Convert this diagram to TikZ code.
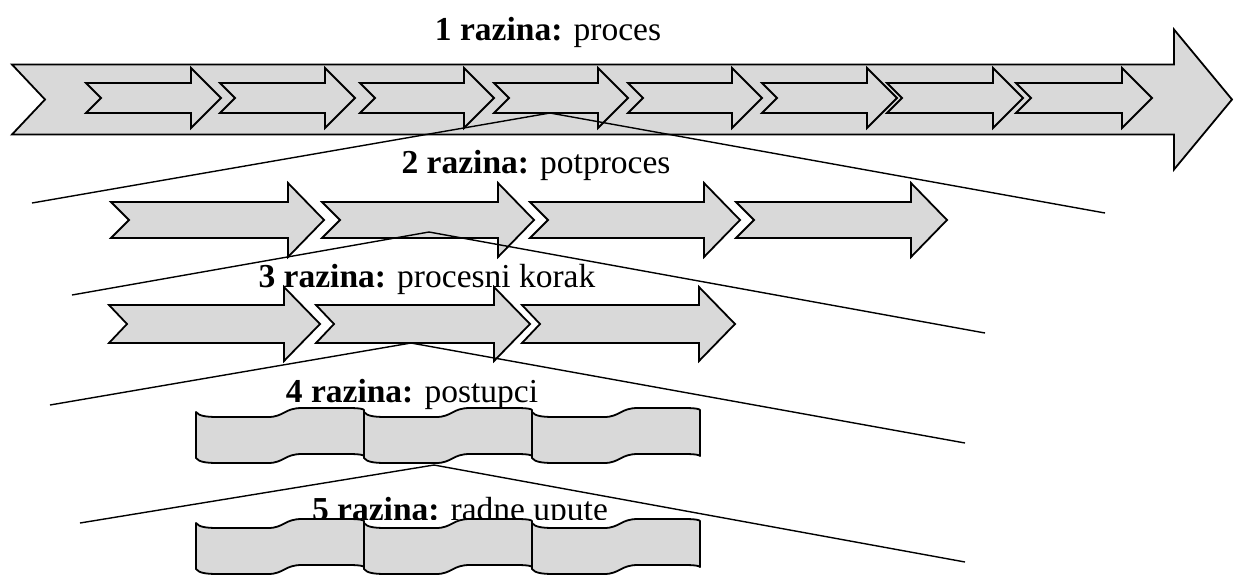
\documentclass[tikz,border=0pt]{standalone}
\usepackage{fontspec}
\setmainfont{Liberation Serif}
\definecolor{shapegray}{RGB}{217,217,217}
\tikzset{
  arrowbox/.style={draw=black, fill=shapegray, line width=1.8pt, line join=miter},
  panelbox/.style={draw=black, fill=shapegray, line width=1.8pt, line join=round},
  fanline/.style={draw=black, line width=1.4pt},
  lvl/.style={anchor=base, inner sep=0pt, font=\fontsize{33.5}{36}\selectfont},
}
% left x, tip x, centre y, shaft half, head half, notch, head length
\newcommand{\procarrow}[7]{%
  \draw[arrowbox] (#1,{#3-#4}) -- ({#2-#7},{#3-#4}) -- ({#2-#7},{#3-#5}) -- (#2,#3)
    -- ({#2-#7},{#3+#5}) -- ({#2-#7},{#3+#4}) -- (#1,{#3+#4}) -- ({#1+#6},#3) -- cycle;}
% left x, top y, height
\newcommand{\wavepanel}[3]{%
  \draw[panelbox] (#1,#2) .. controls ({#1+3},{#2+4}) and ({#1+10},{#2+5}) .. ({#1+22},{#2+5})
    -- ({#1+72},{#2+5}) .. controls ({#1+88},{#2+5}) and ({#1+88},{#2-4}) .. ({#1+106},{#2-4})
    -- ({#1+153},{#2-4}) .. controls ({#1+163},{#2-4}) and ({#1+168},{#2-3}) .. ({#1+168},{#2-2})
    -- ({#1+168},{#2+#3-2}) .. controls ({#1+168},{#2+#3-3}) and ({#1+163},{#2+#3-4}) .. ({#1+153},{#2+#3-4})
    -- ({#1+106},{#2+#3-4}) .. controls ({#1+88},{#2+#3-4}) and ({#1+88},{#2+#3+5}) .. ({#1+72},{#2+#3+5})
    -- ({#1+22},{#2+#3+5}) .. controls ({#1+10},{#2+#3+5}) and ({#1+3},{#2+#3+4}) .. (#1,{#2+#3}) -- cycle;}
\begin{document}
\begin{tikzpicture}[x=1pt, y=-1pt]
\useasboundingbox (0,0) rectangle (1234,574);
\clip (0,0) rectangle (1234,574);
\fill[white] (0,0) rectangle (1234,574);

% labels
\node[lvl] (l1) at (548,40) {\textbf{1 razina:} proces};
\node[lvl] (l2) at (536,173) {\textbf{2 razina:} potproces};
\node[lvl] (l3) at (427,287) {\textbf{3 razina:} procesni korak};
\node[lvl] (l4) at (412,402) {\textbf{4 razina:} postupci};
\begin{scope}
  \clip (0,0) rectangle (1234,519);
  \node[lvl] (l5) at (460,520) {\textbf{5 razina:} radne upute};
\end{scope}

% level 1
\procarrow{12}{1232}{99.5}{35}{70}{33}{58}
\procarrow{86}{221}{98}{15}{30}{15}{30}
\procarrow{220}{355}{98}{15}{30}{15}{30}
\procarrow{360}{494}{98}{15}{30}{15}{30}
\procarrow{494}{628}{98}{15}{30}{15}{30}
\procarrow{628}{762}{98}{15}{30}{15}{30}
\procarrow{762}{897}{98}{15}{30}{15}{30}
\procarrow{887}{1023}{98}{15}{30}{15}{30}
\procarrow{1016}{1152}{98}{15}{30}{15}{30}

% level 2
\procarrow{111}{324}{220}{18}{37}{18}{36}
\procarrow{322}{534}{220}{18}{37}{18}{36}
\procarrow{530}{740}{220}{18}{37}{18}{36}
\procarrow{736}{947}{220}{18}{37}{18}{36}

% level 3
\procarrow{109}{320}{324}{19}{37}{18}{36}
\procarrow{316}{530}{324}{19}{37}{18}{36}
\procarrow{522}{735}{324}{19}{37}{18}{36}

% level 4
\wavepanel{196}{412}{46}
\wavepanel{364}{412}{46}
\wavepanel{532}{412}{46}

% level 5
\wavepanel{196}{523}{46}
\wavepanel{364}{523}{46}
\wavepanel{532}{523}{46}

% fan lines
\coordinate (a1) at (32,203);  \coordinate (a2) at (550,113); \coordinate (a3) at (1105,213);
\coordinate (b1) at (72,295);  \coordinate (b2) at (429,232); \coordinate (b3) at (985,333);
\coordinate (c1) at (50,405);  \coordinate (c2) at (411,343); \coordinate (c3) at (965,443);
\coordinate (d1) at (80,523);  \coordinate (d2) at (434,465); \coordinate (d3) at (965,562);
\draw[fanline] (a1) -- (a2) -- (a3);
\draw[fanline] (b1) -- (b2) -- (b3);
\draw[fanline] (c1) -- (c2) -- (c3);
\draw[fanline] (d1) -- (d2) -- (d3);
\end{tikzpicture}
\end{document}
